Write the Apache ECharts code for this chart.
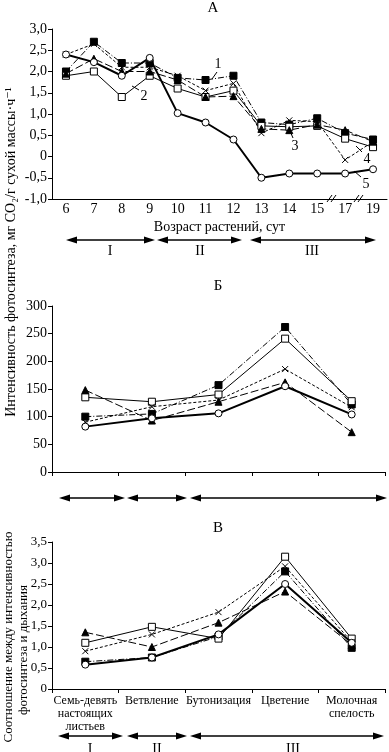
<!DOCTYPE html>
<html>
<head>
<meta charset="utf-8">
<script src="https://cdn.jsdelivr.net/npm/echarts@6.0.0/dist/echarts.min.js"></script>
<style>
html,body{margin:0;padding:0;background:#fff;}
#chart{width:389px;height:752px;}
</style>
</head>
<body>
<div id="chart"></div>
<script>
// --- данные ---
// А: возраст растений, сут
var daysA = ['6','7','8','9','10','11','12','13','14','15','17','19'];
var a1 = [2.0, 2.7, 2.2, 2.2, 1.85, 1.8, 1.9, 0.8, 0.75, 0.9, 0.55, 0.4];
var a2 = [1.9, 2.0, 1.4, 1.9, 1.6, 1.4, 1.55, 0.72, 0.7, 0.72, 0.42, 0.22];
var a3 = [1.95, 2.3, 2.0, 2.0, 1.8, 1.4, 1.42, 0.65, 0.62, 0.75, 0.62, 0.35];
var a4 = [2.4, 2.65, 2.1, 2.1, 1.9, 1.55, 1.72, 0.55, 0.85, 0.82, -0.08, 0.35];
var a5 = [2.4, 2.22, 1.9, 2.32, 1.02, 0.8, 0.4, -0.5, -0.4, -0.4, -0.4, -0.3];
// Б: интенсивность фотосинтеза по фазам
var phasesB = ['', '', '', '', ''];
var b1 = [100, 105, 157, 262, 122];
var b2 = [135, 127, 140, 241, 128];
var b3 = [148, 93, 127, 162, 72];
var b4 = [90, 118, 130, 186, 117];
var b5 = [82, 97, 106, 155, 104];
// В: соотношение фотосинтеза и дыхания
var phasesC = ['Семь-девять\nнастоящих\nлистьев', 'Ветвление', 'Бутонизация', 'Цветение', 'Молочная\nспелость'];
var c1 = [0.65, 0.75, 1.25, 2.8, 0.98];
var c2 = [1.1, 1.48, 1.2, 3.15, 1.2];
var c3 = [1.35, 1.0, 1.58, 2.32, 1.05];
var c4 = [0.9, 1.3, 1.83, 2.92, 1.12];
var c5 = [0.58, 0.75, 1.3, 2.5, 1.1];

var FONT = '"Liberation Serif", "DejaVu Serif", serif';
var myChart = echarts.init(document.getElementById('chart'));

// стиль линий 1..5
var styles = [
    {symbol:'rect', fill:'#000', line:{width:1, type:[6,2,1,2]}},
    {symbol:'rect', fill:'#fff', line:{width:1, type:'solid'}},
    {symbol:'triangle', fill:'#000', line:{width:1, type:[8,3]}},
    {symbol:'path://M0,0L10,10M10,0L0,10', fill:'none', line:{width:1, type:[3,2]}},
    {symbol:'circle', fill:'#fff', line:{width:2, type:'solid'}}
];

function mkSeries(idx, data, axisIdx) {
    var s = styles[idx];
    return {
        name: String(idx + 1),
        type: 'line',
        xAxisIndex: axisIdx,
        yAxisIndex: axisIdx,
        data: data,
        symbol: s.symbol,
        symbolSize: idx == 3 ? 6 : 7,
        showAllSymbol: true,
        lineStyle: {color:'#000', width:s.line.width, type:s.line.type},
        itemStyle: {color:s.fill, borderColor:'#000', borderWidth:1},
        emphasis: {disabled:true},
        animation: false,
        z: idx == 4 ? 3 : 2
    };
}

function fmt(v) {
    if (v === 0) return '0';
    return v.toFixed(1).replace('.', ',');
}

var axisLine = {onZero:false, lineStyle:{color:'#000', width:1}};
var lbl = {color:'#000', fontFamily:FONT, fontSize:14};

// стрелки с римскими цифрами
function arrow(x1, x2, y) {
    return [
        {type:'line', shape:{x1:x1+6, y1:y, x2:x2-6, y2:y}, style:{stroke:'#000', lineWidth:1.5}},
        {type:'polygon', shape:{points:[[x1,y],[x1+11,y-3.5],[x1+11,y+3.5]]}, style:{fill:'#000'}},
        {type:'polygon', shape:{points:[[x2,y],[x2-11,y-3.5],[x2-11,y+3.5]]}, style:{fill:'#000'}}
    ];
}
function txt(x, y, t, size, rot) {
    return {type:'text', x:x, y:y, rotation:rot || 0,
        style:{text:t, font:size + 'px ' + FONT, fill:'#000', align:'center', verticalAlign:'middle'}};
}
function seg(x1, y1, x2, y2) {
    return {type:'line', shape:{x1:x1, y1:y1, x2:x2, y2:y2}, style:{stroke:'#000', lineWidth:1}};
}

var graphics = [];
graphics.push(txt(213, 8, 'А', 15));
graphics.push(txt(218, 286, 'Б', 15));
graphics.push(txt(218, 528, 'В', 15));
graphics.push(txt(11, 252, 'Интенсивность фотосинтеза, мг CO₂/г сухой массы·ч⁻¹', 14, Math.PI / 2));
graphics.push(txt(9, 637, 'Соотношение между интенсивностью', 13, Math.PI / 2));
graphics.push(txt(24, 650, 'фотосинтеза и дыхания', 13, Math.PI / 2));
// подписи кривых
graphics.push(txt(218, 64, '1', 14), seg(217, 72, 212, 79));
graphics.push(txt(144, 96, '2', 14), seg(139, 90, 132, 86));
graphics.push(txt(295, 146, '3', 14), seg(293, 138, 290, 131));
graphics.push(txt(367, 159, '4', 14), seg(362, 152, 356, 146));
graphics.push(txt(366, 184, '5', 14), seg(361, 177, 354, 171));
// разрывы оси
graphics.push(seg(327, 202, 332, 195), seg(331, 202, 336, 195));
graphics.push(seg(354, 202, 359, 195), seg(358, 202, 363, 195));
// стрелки периодов
graphics = graphics.concat(arrow(66, 155, 240), arrow(157, 242, 240), arrow(250, 376, 240));
graphics.push(txt(110, 251, 'I', 14), txt(200, 251, 'II', 14), txt(312, 251, 'III', 14));
graphics = graphics.concat(arrow(59, 125, 498), arrow(127, 187, 498), arrow(190, 387, 498));
graphics = graphics.concat(arrow(58, 123, 736), arrow(127, 187, 736), arrow(190, 384, 736));
graphics.push(txt(90, 749, 'I', 14), txt(157, 749, 'II', 14), txt(293, 749, 'III', 14));

var option = {
    backgroundColor: '#fff',
    animation: false,
    grid: [
        {left:52, top:29, width:335, height:170},
        {left:52, top:306, width:333, height:166},
        {left:52, top:542, width:333, height:147}
    ],
    xAxis: [
        {gridIndex:0, type:'category', data:daysA, boundaryGap:true,
         axisLine:axisLine, axisTick:{show:false},
         axisLabel:{color:'#000', fontFamily:FONT, fontSize:14, margin:3, interval:0},
         name:'Возраст растений, сут', nameLocation:'middle', nameGap:21,
         nameTextStyle:{color:'#000', fontFamily:FONT, fontSize:14}},
        {gridIndex:1, type:'category', data:phasesB, boundaryGap:true,
         axisLine:axisLine, axisTick:{show:true, length:4, lineStyle:{color:'#000'}},
         axisLabel:{show:false}},
        {gridIndex:2, type:'category', data:phasesC, boundaryGap:true,
         axisLine:axisLine, axisTick:{show:true, length:4, lineStyle:{color:'#000'}},
         axisLabel:{color:'#000', fontFamily:FONT, fontSize:12, lineHeight:13, margin:5, interval:0}}
    ],
    yAxis: [
        {gridIndex:0, type:'value', min:-1, max:3, interval:0.5,
         axisLine:{show:true, lineStyle:{color:'#000'}}, axisTick:{show:true, length:4},
         splitLine:{show:false}, axisLabel:Object.assign({formatter:fmt, margin:5}, lbl)},
        {gridIndex:1, type:'value', min:0, max:300, interval:50,
         axisLine:{show:true, lineStyle:{color:'#000'}}, axisTick:{show:true, length:4},
         splitLine:{show:false}, axisLabel:Object.assign({margin:5}, lbl)},
        {gridIndex:2, type:'value', min:0, max:3.5, interval:0.5,
         axisLine:{show:true, lineStyle:{color:'#000'}}, axisTick:{show:true, length:4},
         splitLine:{show:false}, axisLabel:Object.assign({formatter:fmt, margin:5}, lbl, {fontSize:13})}
    ],
    series: [
        mkSeries(0, a1, 0), mkSeries(1, a2, 0), mkSeries(2, a3, 0), mkSeries(3, a4, 0), mkSeries(4, a5, 0),
        mkSeries(0, b1, 1), mkSeries(1, b2, 1), mkSeries(2, b3, 1), mkSeries(3, b4, 1), mkSeries(4, b5, 1),
        mkSeries(0, c1, 2), mkSeries(1, c2, 2), mkSeries(2, c3, 2), mkSeries(3, c4, 2), mkSeries(4, c5, 2)
    ],
    graphic: graphics
};

myChart.setOption(option);
</script>
</body>
</html>
